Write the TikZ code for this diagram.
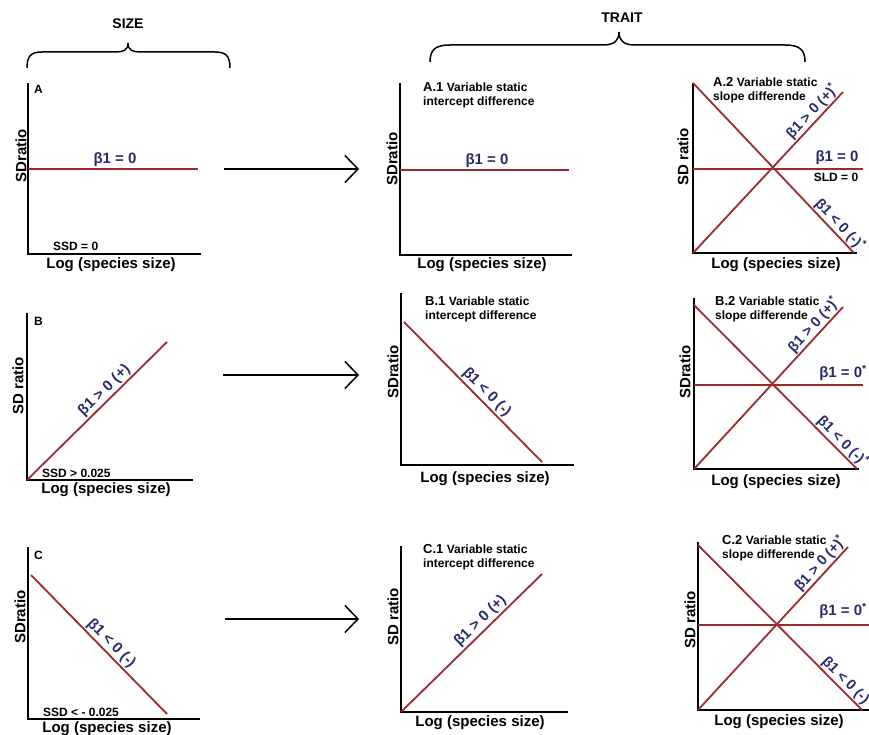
\documentclass[tikz,border=0pt]{standalone}
\usepackage{fontspec}
\setmainfont{Liberation Sans}
\usetikzlibrary{arrows.meta}
\definecolor{lred}{HTML}{9C2B2F}
\definecolor{bnavy}{HTML}{2B2C6C}
\begin{document}
\begin{tikzpicture}[x=1pt,y=-1pt,
 axis/.style={line width=1.4pt,black,line join=miter},
 rline/.style={line width=1.8pt,lred},
 beta/.style={text=bnavy,font=\fontsize{15}{17}\selectfont\bfseries,inner sep=1.5pt},
 sbeta/.style={beta,font=\fontsize{14.5}{17}\selectfont\bfseries,inner sep=1pt},
 axlab/.style={font=\fontsize{15}{17}\selectfont\bfseries,inner sep=0pt},
 ylab/.style={axlab,rotate=90},
 note/.style={font=\fontsize{12}{13.5}\selectfont\bfseries,inner sep=0pt,anchor=west},
 ttl/.style={font=\fontsize{12}{14.5}\selectfont\bfseries,inner sep=0pt,align=left,anchor=north west},
 flow/.style={line width=1.5pt,-{Straight Barb[length=13pt,width=27pt,line width=1.5pt]}},
 brc/.style={line width=1.5pt},
 hdr/.style={font=\fontsize{14}{16}\selectfont\bfseries,inner sep=0pt}]
\useasboundingbox (0,0) rectangle (869,735);
\fill[white] (0,0) rectangle (869,735);

% headers and braces
\node[hdr] (size) at (128,24) {SIZE};
\node[hdr] (trait) at (622,18) {TRAIT};
\coordinate (szl) at (27,68); \coordinate (szt) at (128,43); \coordinate (szr) at (230,68);
\draw[brc] (szl) .. controls (27,56) and (31,52) .. (42,52) -- (114,52)
  .. controls (124,52) and (128,50) .. (szt)
  .. controls (128,50) and (132,52) .. (142,52) -- (215,52)
  .. controls (226,52) and (230,56) .. (szr);
\coordinate (trl) at (430,62); \coordinate (trt) at (619,32); \coordinate (trr) at (805,62);
\draw[brc] (trl) .. controls (430,50) and (435,45) .. (450,45) -- (603,45)
  .. controls (615,45) and (619,40) .. (trt)
  .. controls (619,40) and (623,45) .. (635,45) -- (785,45)
  .. controls (800,45) and (805,50) .. (trr);

% ---------- Panel A ----------
\coordinate (At) at (28,83); \coordinate (Ao) at (28,254); \coordinate (Ar) at (201,254);
\draw[axis] (At) -- (Ao) -- (Ar);
\coordinate (Al) at (28,169); \coordinate (Ae) at (198,169);
\draw[rline] (Al) -- (Ae);
\node[beta] (Ab) at (115,160) {β1 = 0};
\node[note] (Alet) at (34,89) {A};
\node[note] (Assd) at (53,246) {SSD = 0};
\node[axlab] (Ax) at (111,265) {Log (species size)};
\node[ylab] (Ay) at (21,156) {SDratio};
\coordinate (aA1) at (224,169); \coordinate (aA2) at (359,169);
\draw[flow] (aA1) -- (aA2);

% ---------- Panel A.1 ----------
\coordinate (A1t) at (400,83); \coordinate (A1o) at (400,255); \coordinate (A1r) at (572,255);
\draw[axis] (A1t) -- (A1o) -- (A1r);
\coordinate (A1l) at (400,170); \coordinate (A1e) at (569,170);
\draw[rline] (A1l) -- (A1e);
\node[beta] (A1b) at (487,161) {β1 = 0};
\node[ttl] (A1ttl) at (423,82) {{\fontsize{13}{14.5}\selectfont A.1} Variable static\\intercept difference};
\node[axlab] (A1x) at (482,265) {Log (species size)};
\node[ylab] (A1y) at (392,159) {SDratio};

% ---------- Panel A.2 ----------
\coordinate (A2t) at (693,83); \coordinate (A2o) at (693,253); \coordinate (A2r) at (857,253);
\draw[axis] (A2t) -- (A2o) -- (A2r);
\coordinate (A2d) at (854,253); \coordinate (A2i) at (843,92);
\coordinate (A2h0) at (693,169); \coordinate (A2h1) at (863,169);
\draw[rline] (A2t) -- node[sbeta,sloped,above,pos=0.87] {β1 < 0 (-)\textsuperscript{*}} (A2d);
\draw[rline] (A2o) -- node[sbeta,sloped,above,pos=0.84] {β1 > 0 (+)\textsuperscript{*}} (A2i);
\draw[rline] (A2h0) -- (A2h1);
\node[beta] (A2b) at (837,158) {β1 = 0};
\node[note,anchor=center] (A2sld) at (836,177) {SLD = 0};
\node[ttl] (A2ttl) at (713,77) {{\fontsize{13}{14.5}\selectfont A.2} Variable static\\slope differende};
\node[axlab] (A2x) at (776,265) {Log (species size)};
\node[ylab] (A2y) at (683,157) {SD ratio};

% ---------- Panel B ----------
\coordinate (Bt) at (27,313); \coordinate (Bo) at (27,480); \coordinate (Br) at (193,480);
\draw[axis] (Bt) -- (Bo) -- (Br);
\coordinate (Be) at (167,342);
\draw[rline] (Bo) -- node[beta,sloped,above,pos=0.6] {β1 > 0 (+)} (Be);
\node[note] (Blet) at (34,321) {B};
\node[note] (Bssd) at (42,473) {SSD > 0.025};
\node[axlab] (Bx) at (106,490) {Log (species size)};
\node[ylab] (By) at (18,386) {SD ratio};
\coordinate (aB1) at (223,375); \coordinate (aB2) at (359,375);
\draw[flow] (aB1) -- (aB2);

% ---------- Panel B.1 ----------
\coordinate (B1t) at (401,293); \coordinate (B1o) at (401,465); \coordinate (B1r) at (574,465);
\draw[axis] (B1t) -- (B1o) -- (B1r);
\coordinate (B1s) at (404,322); \coordinate (B1e) at (542,462);
\draw[rline] (B1s) -- node[beta,sloped,above,pos=0.55] {β1 < 0 (-)} (B1e);
\node[ttl] (B1ttl) at (425,296) {{\fontsize{13}{14.5}\selectfont B.1} Variable static\\intercept difference};
\node[axlab] (B1x) at (485,479) {Log (species size)};
\node[ylab] (B1y) at (393,372) {SDratio};

% ---------- Panel B.2 ----------
\coordinate (B2t) at (694,298); \coordinate (B2o) at (694,469); \coordinate (B2r) at (859,469);
\draw[axis] (B2t) -- (B2o) -- (B2r);
\coordinate (B2ds) at (694,305); \coordinate (B2d) at (857,469); \coordinate (B2i) at (843,307);
\coordinate (B2h0) at (694,385); \coordinate (B2h1) at (863,385);
\draw[rline] (B2ds) -- node[sbeta,sloped,above,pos=0.87] {β1 < 0 (-)\textsuperscript{*}} (B2d);
\draw[rline] (B2o) -- node[sbeta,sloped,above,pos=0.85] {β1 > 0 (+)\textsuperscript{*}} (B2i);
\draw[rline] (B2h0) -- (B2h1);
\node[beta] (B2b) at (843,373) {β1 = 0\textsuperscript{*}};
\node[ttl] (B2ttl) at (715,296) {{\fontsize{13}{14.5}\selectfont B.2} Variable static\\slope differende};
\node[axlab] (B2x) at (776,482) {Log (species size)};
\node[ylab] (B2y) at (685,372) {SDratio};

% ---------- Panel C ----------
\coordinate (Ct) at (28,547); \coordinate (Co) at (28,719); \coordinate (Cr) at (200,719);
\draw[axis] (Ct) -- (Co) -- (Cr);
\coordinate (Cs) at (31,575); \coordinate (Ce) at (167,714);
\draw[rline] (Cs) -- node[beta,sloped,above,pos=0.54] {β1 < 0 (-)} (Ce);
\node[note] (Clet) at (34,555) {C};
\node[note] (Cssd) at (43,712) {SSD < - 0.025};
\node[axlab] (Cx) at (107,729) {Log (species size)};
\node[ylab] (Cy) at (20,617) {SDratio};
\coordinate (aC1) at (225,619); \coordinate (aC2) at (359,619);
\draw[flow] (aC1) -- (aC2);

% ---------- Panel C.1 ----------
\coordinate (C1t) at (401,546); \coordinate (C1o) at (401,712); \coordinate (C1r) at (568,712);
\draw[axis] (C1t) -- (C1o) -- (C1r);
\coordinate (C1e) at (542,574);
\draw[rline] (C1o) -- node[beta,sloped,above,pos=0.61] {β1 > 0 (+)} (C1e);
\node[ttl] (C1ttl) at (423,544) {{\fontsize{13}{14.5}\selectfont C.1} Variable static\\intercept difference};
\node[axlab] (C1x) at (480,723) {Log (species size)};
\node[ylab] (C1y) at (393,617) {SD ratio};

% ---------- Panel C.2 ----------
\coordinate (C2t) at (698,542); \coordinate (C2o) at (698,710); \coordinate (C2r) at (869,710);
\draw[axis] (C2t) -- (C2o) -- (C2r);
\coordinate (C2ds) at (698,545); \coordinate (C2d) at (862,710); \coordinate (C2i) at (848,547);
\coordinate (C2h0) at (698,625); \coordinate (C2h1) at (869,625);
\draw[rline] (C2ds) -- node[sbeta,sloped,above,pos=0.86] {β1 < 0 (-)} (C2d);
\draw[rline] (C2o) -- node[sbeta,sloped,above,pos=0.86] {β1 > 0 (+)\textsuperscript{*}} (C2i);
\draw[rline] (C2h0) -- (C2h1);
\node[beta] (C2b) at (843,611) {β1 = 0\textsuperscript{*}};
\node[ttl] (C2ttl) at (722,535) {{\fontsize{13}{14.5}\selectfont C.2} Variable static\\slope differende};
\node[axlab] (C2x) at (779,722) {Log (species size)};
\node[ylab] (C2y) at (690,620) {SD ratio};
\end{tikzpicture}
\end{document}
